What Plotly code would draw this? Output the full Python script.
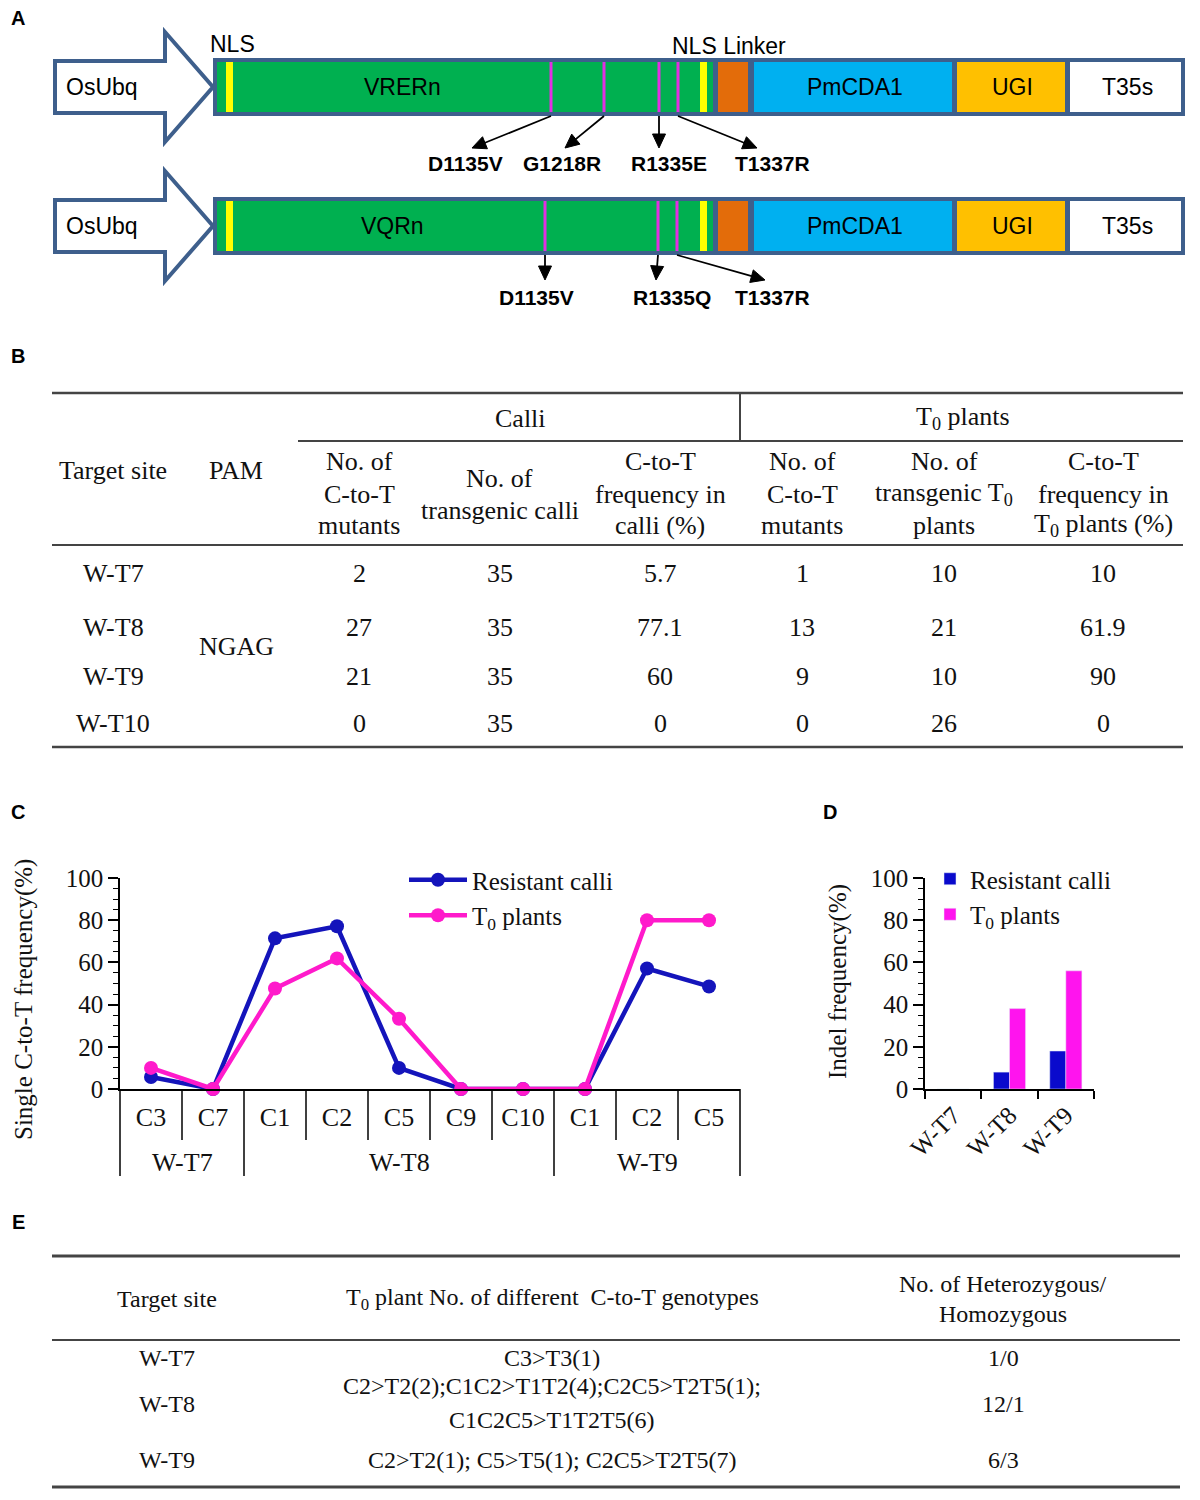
import math
import plotly.graph_objects as go

W, H = 1200, 1500
OFF = 8  # page body margin of the html page
SERIF = "Liberation Serif"
SANS = "Liberation Sans"

# ---- panel C data ----
c_sites = ["W-T7", "W-T7", "W-T8", "W-T8", "W-T8", "W-T8", "W-T8", "W-T9", "W-T9", "W-T9"]
c_pos = ["C3", "C7", "C1", "C2", "C5", "C9", "C10", "C1", "C2", "C5"]
calli_single = [5.7, 0, 71.4, 77.1, 10, 0, 0, 0, 57.1, 48.6]
t0_single = [10, 0, 47.6, 61.9, 33.3, 0, 0, 0, 80, 80]

# ---- panel D data ----
d_sites = ["W-T7", "W-T8", "W-T9"]
d_calli = [0, 8, 18]
d_t0 = [0, 38.1, 56]

# ---- panel B table ----
b_targets = ["W-T7", "W-T8", "W-T9", "W-T10"]
b_pam = "NGAG"
b_calli_mut = [2, 27, 21, 0]
b_calli_total = [35, 35, 35, 35]
b_calli_freq = ["5.7", "77.1", "60", "0"]
b_t0_mut = [1, 13, 9, 0]
b_t0_total = [10, 21, 10, 26]
b_t0_freq = ["10", "61.9", "90", "0"]
b_headers = [["Target site"], ["PAM"], ["No. of", "C-to-T", "mutants"],
             ["No. of", "transgenic calli"], ["C-to-T", "frequency in", "calli (%)"],
             ["No. of", "C-to-T", "mutants"], ["No. of", "transgenic T<sub>0</sub>", "plants"],
             ["C-to-T", "frequency in", "T<sub>0</sub> plants (%)"]]

# ---- panel E table ----
e_targets = ["W-T7", "W-T8", "W-T9"]
e_genotypes = [["C3>T3(1)"],
               ["C2>T2(2);C1C2>T1T2(4);C2C5>T2T5(1);", "C1C2C5>T1T2T5(6)"],
               ["C2>T2(1); C5>T5(1); C2C5>T2T5(7)"]]
e_het_hom = ["1/0", "12/1", "6/3"]

# ---- panel A labels ----
constructs = ["VRERn", "VQRn"]
mutations = [["D1135V", "G1218R", "R1335E", "T1337R"],
             ["D1135V", "R1335Q", "T1337R"]]


def X(px):
    return (px - OFF) / W


def Y(py):
    return 1 - (py - OFF) / H


shapes = []
ann = []


def txt(x, y, s, size=26, fam=SERIF, color="#111", bold=False, xanchor="center", angle=0):
    if bold:
        s = "<b>" + s + "</b>"
    ann.append(dict(x=X(x), y=Y(y), xref="paper", yref="paper", text=s, showarrow=False,
                    font=dict(size=size, family=fam, color=color), xanchor=xanchor,
                    yanchor="middle", textangle=angle))


def rect(x0, y0, x1, y1, fill, lc=None, lw=0):
    shapes.append(dict(type="rect", xref="paper", yref="paper", x0=X(x0), x1=X(x1),
                       y0=Y(y1), y1=Y(y0), fillcolor=fill,
                       line=dict(color=lc or fill, width=lw)))


def hline(x0, x1, y, color="#444", width=2):
    shapes.append(dict(type="line", xref="paper", yref="paper", x0=X(x0), x1=X(x1),
                       y0=Y(y), y1=Y(y), line=dict(color=color, width=width)))


def vline(x, y0, y1, color="#444", width=2):
    shapes.append(dict(type="line", xref="paper", yref="paper", x0=X(x), x1=X(x),
                       y0=Y(y0), y1=Y(y1), line=dict(color=color, width=width)))


def arrow(sx, sy, tx, ty, hl=14, hw=6.5):
    d = math.hypot(tx - sx, ty - sy)
    ux, uy = (tx - sx) / d, (ty - sy) / d
    bx, by = tx - ux * hl, ty - uy * hl
    shapes.append(dict(type="line", xref="paper", yref="paper", x0=X(sx), y0=Y(sy),
                       x1=X(bx + ux * 2), y1=Y(by + uy * 2), line=dict(color="black", width=1.8)))
    p1 = (bx - uy * hw, by + ux * hw)
    p2 = (bx + uy * hw, by - ux * hw)
    path = f"M {X(tx)},{Y(ty)} L {X(p1[0])},{Y(p1[1])} L {X(p2[0])},{Y(p2[1])} Z"
    shapes.append(dict(type="path", xref="paper", yref="paper", path=path,
                       fillcolor="black", line=dict(color="black", width=1)))


# panel letters
for letter, lx, ly in [("A", 18, 18), ("B", 18, 356), ("C", 18, 812), ("D", 830, 812), ("E", 18, 1222)]:
    txt(lx, ly, letter, size=20, fam=SANS, color="black", bold=True)

# ================= panel A =================
BORDER = "#3e5f8c"
row_top = [58, 197]
name_x = [402, 392]
mut_x = [[551, 604, 659, 678], [545, 658, 677]]
tip_x = [[472, 565, 659, 757], [545, 656, 765]]
tip_y = [148, 280]
lab_x = [[465, 562, 669, 772], [536, 672, 772]]
lab_y = [164, 297]

for r in range(2):
    top = row_top[r]
    cy = top + 29
    path = (f"M {X(55)},{Y(cy - 26)} L {X(165)},{Y(cy - 26)} L {X(165)},{Y(cy - 55)} "
            f"L {X(213)},{Y(cy)} L {X(165)},{Y(cy + 55)} L {X(165)},{Y(cy + 26)} "
            f"L {X(55)},{Y(cy + 26)} Z")
    shapes.append(dict(type="path", xref="paper", yref="paper", path=path,
                       fillcolor="white", line=dict(color=BORDER, width=4)))
    txt(102, cy, "OsUbq", size=23, fam=SANS, color="black")
    rect(213, top, 1185, top + 58, BORDER)
    for x0, x1, col in [(217, 713, "#00b050"), (718, 748, "#e36c0a"), (754, 952, "#00b0f0"),
                        (957, 1065, "#ffc000"), (1070, 1181, "#ffffff")]:
        rect(x0, top + 4, x1, top + 54, col)
    for x0, x1 in [(226, 233), (700, 707)]:
        rect(x0, top + 4, x1, top + 54, "#ffff00")
    for mx in mut_x[r]:
        vline(mx, top + 4, top + 54, color="#e32ee3", width=3)
    txt(name_x[r], cy, constructs[r], size=23, fam=SANS, color="black")
    txt(855, cy, "PmCDA1", size=23, fam=SANS, color="black")
    txt(1012, cy, "UGI", size=23, fam=SANS, color="black")
    txt(1127, cy, "T35s", size=23, fam=SANS, color="black")
    for mx, tx, lx, lab in zip(mut_x[r], tip_x[r], lab_x[r], mutations[r]):
        arrow(mx, top + 58, tx, tip_y[r])
        txt(lx, lab_y[r], lab, size=21, fam=SANS, color="black", bold=True)

txt(232, 44, "NLS", size=23, fam=SANS, color="black")
txt(729, 46, "NLS Linker", size=23, fam=SANS, color="black")

# ================= panel B =================
hline(52, 1183, 393, width=2.5)
hline(298, 1183, 441)
vline(740, 393, 441)
hline(52, 1183, 545)
hline(52, 1183, 747, width=2.5)
txt(520, 418, "Calli")
txt(963, 418, "T<sub>0</sub> plants")
b_col_x = [113, 236, 359, 500, 660, 802, 944, 1103]
for cx, lines in zip(b_col_x, b_headers):
    if len(lines) == 1:
        ys = [470]
    elif len(lines) == 2:
        ys = [478, 510]
    else:
        ys = [462, 494, 525]
    for yy, s in zip(ys, lines):
        txt(cx, yy, s)
b_row_y = [573, 627, 676, 723]
for i, yy in enumerate(b_row_y):
    vals = [b_targets[i], b_calli_mut[i], b_calli_total[i], b_calli_freq[i],
            b_t0_mut[i], b_t0_total[i], b_t0_freq[i]]
    for cx, v in zip([b_col_x[0]] + b_col_x[2:], vals):
        txt(cx, yy, str(v))
txt(b_col_x[1], 647, b_pam)

# ================= panel E =================
hline(52, 1180, 1256, width=3)
hline(52, 1180, 1340)
hline(52, 1180, 1487, width=3)
e_col_x = [167, 552, 1003]
ES = 24
txt(e_col_x[0], 1299, "Target site", size=ES)
txt(e_col_x[1], 1299, "T<sub>0</sub> plant No. of different  C-to-T genotypes", size=ES)
txt(e_col_x[2], 1284, "No. of Heterozygous/", size=ES)
txt(e_col_x[2], 1314, "Homozygous", size=ES)
e_row_y = [1358, 1404, 1460]
for i, yy in enumerate(e_row_y):
    txt(e_col_x[0], yy, e_targets[i], size=ES)
    txt(e_col_x[2], yy, e_het_hom[i], size=ES)
    g = e_genotypes[i]
    if len(g) == 1:
        txt(e_col_x[1], yy, g[0], size=ES)
    else:
        txt(e_col_x[1], yy - 18, g[0], size=ES)
        txt(e_col_x[1], yy + 16, g[1], size=ES)

# ================= panel C =================
fig = go.Figure()
xi = list(range(len(c_pos)))
BLUE = "#1414bb"
MAG = "#ff1acb"
fig.add_trace(go.Scatter(x=xi, y=calli_single, mode="lines+markers", name="Resistant calli",
                         line=dict(color=BLUE, width=4.5), marker=dict(size=14, color=BLUE),
                         cliponaxis=False, legend="legend"))
fig.add_trace(go.Scatter(x=xi, y=t0_single, mode="lines+markers", name="T<sub>0</sub> plants",
                         line=dict(color=MAG, width=4.5), marker=dict(size=14, color=MAG),
                         cliponaxis=False, legend="legend"))

# ================= panel D =================
fig.add_trace(go.Bar(x=d_sites, y=d_calli, name="Resistant calli", marker_color="#0a0acc",
                     xaxis="x2", yaxis="y2", legend="legend2"))
fig.add_trace(go.Bar(x=d_sites, y=d_t0, name="T<sub>0</sub> plants", marker_color="#ff14ee",
                     xaxis="x2", yaxis="y2", legend="legend2"))

# category separators and group labels under panel C, from the site list
xr = [-0.5, len(c_pos) - 0.5]
bounds = [-0.5]
for i in range(1, len(c_sites)):
    if c_sites[i] != c_sites[i - 1]:
        bounds.append(i - 0.5)
bounds.append(len(c_sites) - 0.5)
for i in range(len(c_pos) - 1):
    b = i + 0.5
    if b in bounds:
        continue
    f = (b - xr[0]) / (xr[1] - xr[0])
    shapes.append(dict(type="line", xref="x domain", yref="paper", x0=f, x1=f,
                       y0=Y(1089), y1=Y(1140), line=dict(color="black", width=1.5)))
for b in bounds:
    f = (b - xr[0]) / (xr[1] - xr[0])
    shapes.append(dict(type="line", xref="x domain", yref="paper", x0=f, x1=f,
                       y0=Y(1089), y1=Y(1176), line=dict(color="black", width=1.5)))
for a, b in zip(bounds[:-1], bounds[1:]):
    site = c_sites[int(a + 0.5)]
    ann.append(dict(x=(a + b) / 2, y=Y(1162), xref="x", yref="paper", text=site,
                    showarrow=False, font=dict(size=26, family=SERIF, color="#111"),
                    yanchor="middle"))

# axis titles
txt(24, 1000, "Single C-to-T frequency(%)", size=25, angle=-90)
txt(838, 982, "Indel frequency(%)", size=25, angle=-90)

ydom = [Y(1089), Y(878)]
yax = dict(range=[0, 100], domain=ydom, showline=True, linecolor="black", linewidth=1.5,
           ticks="outside", ticklen=10, tickwidth=1.5, tickcolor="black",
           tickvals=[0, 20, 40, 60, 80, 100],
           minor=dict(dtick=5, ticks="outside", ticklen=5, tickwidth=1.2, tickcolor="black"),
           showgrid=False, zeroline=False, fixedrange=True,
           tickfont=dict(size=25, family=SERIF, color="#111"))

fig.update_layout(
    width=W, height=H, margin=dict(l=0, r=0, t=0, b=0, autoexpand=False),
    paper_bgcolor="white", plot_bgcolor="white",
    showlegend=True, barmode="group", bargap=0.43, bargroupgap=0,
    xaxis=dict(domain=[X(120), X(740)], range=xr, anchor="y", tickvals=xi, ticktext=c_pos,
               ticks="", showline=True, linecolor="black", linewidth=1.5, showgrid=False,
               zeroline=False, fixedrange=True, ticklabelstandoff=4,
               tickfont=dict(size=26, family=SERIF, color="#111")),
    yaxis=yax,
    xaxis2=dict(domain=[X(925), X(1094)], anchor="y2", type="category", tickson="boundaries",
                ticks="outside", ticklen=8, tickwidth=1.5, tickcolor="black", tickangle=-45,
                showline=True, linecolor="black", linewidth=1.5, showgrid=False,
                fixedrange=True, tickfont=dict(size=25, family=SERIF, color="#111")),
    yaxis2=dict(yax, anchor="x2"),
    legend=dict(x=X(404), y=Y(857), xanchor="left", yanchor="top", bgcolor="rgba(0,0,0,0)",
                itemwidth=58, font=dict(size=25, family=SERIF, color="#111")),
    legend2=dict(x=X(930), y=Y(856), xanchor="left", yanchor="top", bgcolor="rgba(0,0,0,0)",
                 font=dict(size=25, family=SERIF, color="#111")),
    shapes=shapes, annotations=ann,
)

fig.write_html("out.html")
